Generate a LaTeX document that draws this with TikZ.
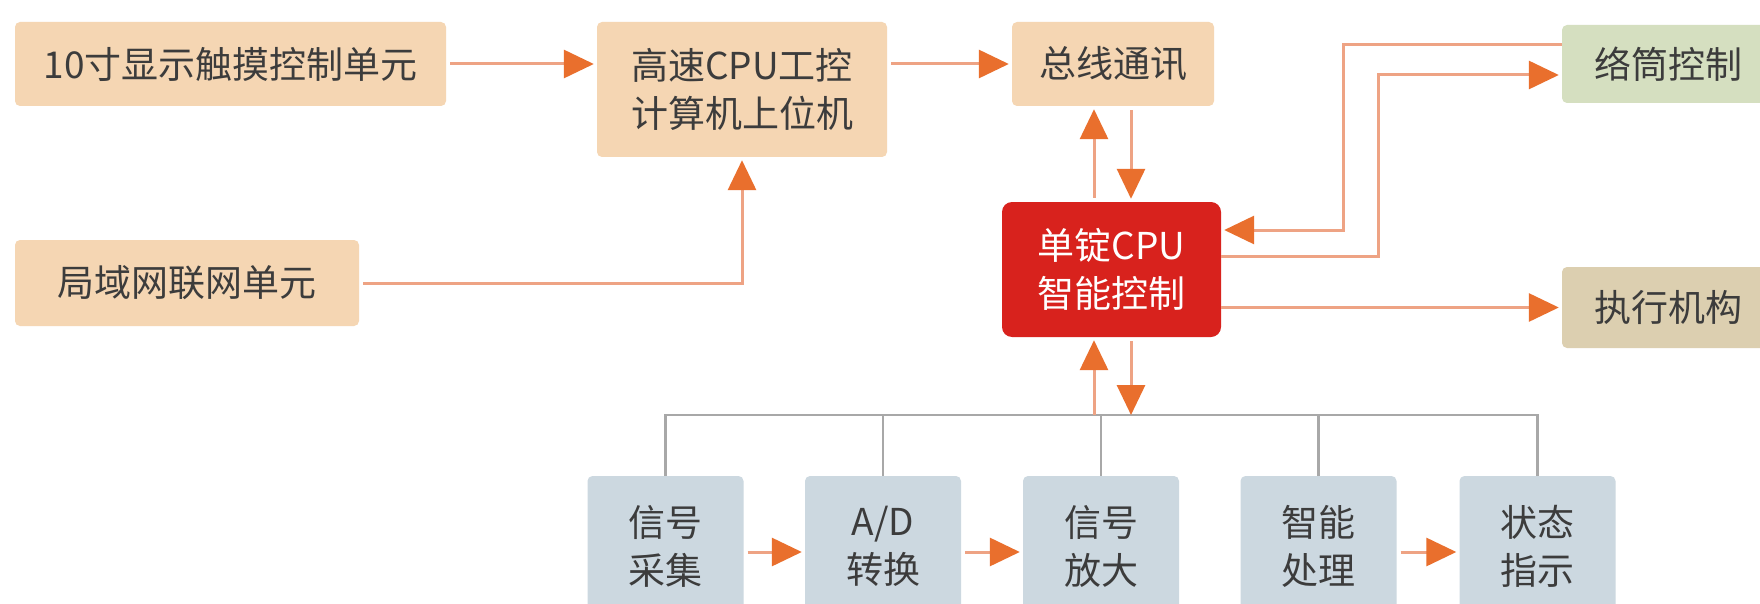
\documentclass[tikz,border=0pt]{standalone}
\usepackage{fontspec}
\setmainfont{Noto Sans CJK SC}
\usetikzlibrary{arrows.meta}
\definecolor{peach}{HTML}{F5D6B3}
\definecolor{sage}{HTML}{D5DFC0}
\definecolor{khaki}{HTML}{DCCFB0}
\definecolor{slate}{HTML}{CCD8E0}
\definecolor{cpured}{HTML}{D8221D}
\definecolor{txt}{HTML}{3C3C3C}
\definecolor{linec}{HTML}{EEA384}
\definecolor{tipc}{HTML}{E96F2D}
\definecolor{busc}{HTML}{A8A8A8}
\begin{document}
\begin{tikzpicture}[x=1pt,y=-1pt,
  box/.style={rounded corners=5pt, inner sep=0pt, text=txt, align=center,
    font=\fontsize{37}{48}\selectfont, anchor=center},
  arr/.style={draw=linec, line width=3pt, shorten <=4pt, shorten >=3pt,
    -{Triangle[length=30pt,width=28pt,color=tipc]}},
  bus/.style={draw=busc, line width=2.5pt}]
\useasboundingbox (0,0) rectangle (1760,604);
\fill[white] (0,0) rectangle (1760,604);
% top row
\node[box, fill=peach, minimum width=431pt, minimum height=84pt] (A) at (230.5,64) {10寸显示触摸控制单元};
\node[box, fill=peach, minimum width=290pt, minimum height=135pt] (B) at (742,89.5) {高速CPU工控\\计算机上位机};
\node[box, fill=peach, minimum width=202pt, minimum height=84pt] (C) at (1113,64) {总线通讯};
\node[box, fill=sage, minimum width=212pt, minimum height=78pt] (D) at (1668,64) {络筒控制};
\node[box, fill=cpured, text=white, rounded corners=10pt, minimum width=219pt, minimum height=135pt] (E) at (1111.5,269.5) {单锭CPU\\智能控制};
\node[box, fill=khaki, minimum width=212pt, minimum height=81pt] (F) at (1668,307.5) {执行机构};
\node[box, fill=peach, minimum width=344pt, minimum height=86pt] (G) at (187,283) {局域网联网单元};
% bottom row
\node[box, fill=slate, minimum width=156pt, minimum height=140pt] (s1) at (665.5,546) {信号\\采集};
\node[box, fill=slate, minimum width=156pt, minimum height=140pt] (s2) at (883,546) {A/D\\转换};
\node[box, fill=slate, minimum width=156pt, minimum height=140pt] (s3) at (1101,546) {信号\\放大};
\node[box, fill=slate, minimum width=156pt, minimum height=140pt] (s4) at (1318.5,546) {智能\\处理};
\node[box, fill=slate, minimum width=156pt, minimum height=140pt] (s5) at (1537.5,546) {状态\\指示};
\coordinate (busy) at (0,415);
% bus
\draw[bus] (s1.north) -- (s1.north |- busy) -- (s5.north |- busy) -- (s5.north);
\draw[bus] (s2.north) -- (s2.north |- busy);
\draw[bus] (s3.north) -- (s3.north |- busy);
\draw[bus] (s4.north) -- (s4.north |- busy);
% arrows top
\draw[arr] (A.east) -- (B.west |- A.east);
\draw[arr] (B.east |- C.west) -- (C.west);
\draw[arr] (G.east) -| (B.south);
\draw[arr] ([xshift=-17.5pt]E.north) -- ([xshift=-17.5pt]E.north |- C.south);
\draw[arr] ([xshift=18pt]C.south) -- ([xshift=18pt]C.south |- E.north);
% E <-> bus
\draw[arr, shorten <=0pt] ([xshift=-17.5pt]E.south |- busy) -- ([xshift=-17.5pt]E.south);
\draw[arr, shorten >=0pt] ([xshift=19.5pt]E.south) -- ([xshift=19.5pt]E.south |- busy);
% E <-> D, E -> F
\draw[arr, shorten <=0pt] ([yshift=19pt]D.west) -- (1343,45) -- (1343,230) -- ([yshift=39.5pt]E.east);
\draw[arr, shorten <=0pt] ([yshift=13.5pt]E.east) -- (1378,256) -- (1378,75) -- ([yshift=-11pt]D.west);
\draw[arr, shorten <=0pt] (E.east |- F.west) -- (F.west);
% bottom arrows
\draw[arr] ([yshift=-6pt]s1.east) -- ([yshift=-6pt]s2.west);
\draw[arr] ([yshift=-6pt]s2.east) -- ([yshift=-6pt]s3.west);
\draw[arr] ([yshift=-6pt]s4.east) -- ([yshift=-6pt]s5.west);
\end{tikzpicture}
\end{document}
